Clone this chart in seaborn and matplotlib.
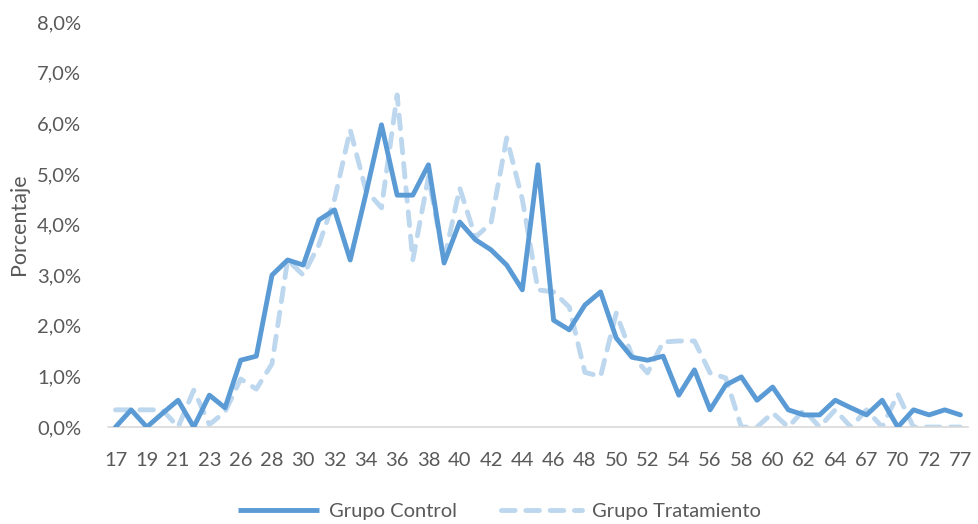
import matplotlib
matplotlib.use("Agg")
import matplotlib.pyplot as plt
import matplotlib.ticker as mticker
from matplotlib.lines import Line2D
import numpy as np
import pandas as pd
import seaborn as sns

# Age categories (one point per observed age)
edades = [17, 18, 19, 20, 21, 22, 23, 25, 26, 27, 28, 29, 30, 31, 32, 33, 34, 35,
          36, 37, 38, 39, 40, 41, 42, 43, 44, 45, 46, 47, 48, 49, 50, 51, 52, 53,
          54, 55, 56, 57, 58, 59, 60, 61, 62, 63, 64, 65, 67, 69, 70, 71, 72, 74, 77]

# Percentage of each group at each age
control = [0.0, 0.34, 0.0, 0.27, 0.53, 0.0, 0.63, 0.38, 1.32, 1.40,
           3.0, 3.3, 3.2, 4.09, 4.29, 3.30, 4.6, 5.97, 4.58, 4.58,
           5.18, 3.24, 4.05, 3.70, 3.50, 3.20, 2.71, 5.18, 2.11, 1.92,
           2.41, 2.67, 1.76, 1.38, 1.32, 1.40, 0.63, 1.13, 0.34, 0.83,
           0.99, 0.53, 0.79, 0.34, 0.24, 0.24, 0.53, 0.38, 0.24, 0.53,
           0.0, 0.34, 0.24, 0.34, 0.24]
tratamiento = [0.34, 0.34, 0.34, 0.34, 0.0, 0.73, 0.05, 0.3, 0.95, 0.75,
               1.25, 3.3, 3.0, 3.6, 4.5, 5.87, 4.68, 4.33, 6.56, 3.30,
               4.94, 3.30, 4.72, 3.75, 4.03, 5.71, 4.5, 2.71, 2.67, 2.37,
               1.08, 1.0, 2.25, 1.42, 1.07, 1.68, 1.70, 1.70, 1.07, 0.97,
               0.0, 0.0, 0.28, 0.0, 0.34, 0.0, 0.34, 0.0, 0.34, 0.0,
               0.65, 0.0, 0.0, 0.0, 0.0]

grupos = ["Grupo Control", "Grupo Tratamiento"]
colores = {"Grupo Control": "#5B9BD5", "Grupo Tratamiento": "#BDD7EE"}

pos = np.arange(len(edades))
df = pd.DataFrame({
    "pos": np.concatenate([pos, pos]),
    "valor": control + tratamiento,
    "grupo": [grupos[0]] * len(edades) + [grupos[1]] * len(edades),
})

sns.set_theme(style="white")
plt.rcParams["font.family"] = ["Lato", "DejaVu Sans"]
texto = "#595959"

fig = plt.figure(figsize=(9.79, 5.24), dpi=100)
ax = fig.add_axes([0.110, 0.185, 0.879, 0.773])

lw = 3.5
dash = (2.8, 2.2)
sns.lineplot(data=df, x="pos", y="valor", hue="grupo", style="grupo",
             palette=colores, dashes={grupos[0]: "", grupos[1]: dash},
             linewidth=lw, legend=False, ax=ax, sort=False)
for ln in ax.lines:
    ln.set_solid_joinstyle("round")
    ln.set_dash_capstyle("round")
    ln.set_dash_joinstyle("round")
# control line drawn above the treatment line
ax.lines[0].set_zorder(3)
ax.lines[1].set_zorder(2)

ax.set_xlim(-0.5, len(edades) - 0.5)
ax.set_ylim(0, 8)
ax.set_xticks(pos[::2])
ax.set_xticklabels([str(e) for e in edades[::2]])
ax.yaxis.set_major_locator(mticker.MultipleLocator(1))
ax.yaxis.set_major_formatter(mticker.FuncFormatter(
    lambda v, _: f"{v:.1f}%".replace(".", ",")))
ax.tick_params(axis="both", length=0, labelsize=14.5, colors=texto)
ax.tick_params(axis="x", pad=18)
ax.tick_params(axis="y", pad=19)

for s in ["top", "right", "left"]:
    ax.spines[s].set_visible(False)
ax.spines["bottom"].set_color("#D9D9D9")
ax.spines["bottom"].set_linewidth(1.2)
ax.grid(False)

ax.set_xlabel("")
ax.set_ylabel("Porcentaje", fontsize=15.5, color=texto, labelpad=6)

handles = [
    Line2D([], [], color=colores[grupos[0]], lw=lw, solid_capstyle="butt"),
    Line2D([], [], color=colores[grupos[1]], lw=lw, dashes=dash,
           dash_capstyle="round"),
]
fig.legend(handles, grupos, loc="center", bbox_to_anchor=(0.51, 0.024),
           ncol=2, frameon=False, fontsize=14.5, labelcolor=texto,
           handlelength=4.0, handletextpad=0.5, columnspacing=2.2)

fig.savefig("out.png", dpi=100)
